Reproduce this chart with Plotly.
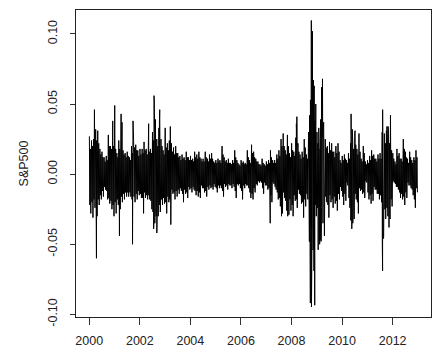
import datetime as dt
import plotly.graph_objects as go

# Monthly outer envelope (largest up / down daily log return)
hi_2000 = [0.027, 0.024, 0.025, 0.032, 0.031, 0.018, 0.016, 0.012, 0.013, 0.028, 0.020, 0.024]
lo_2000 = [-0.028, -0.031, -0.024, -0.030, -0.022, -0.018, -0.016, -0.011, -0.018, -0.021, -0.025, -0.030]
hi_2001 = [0.020, 0.015, 0.024, 0.035, 0.017, 0.015, 0.016, 0.012, 0.020, 0.024, 0.021, 0.017]
lo_2001 = [-0.028, -0.022, -0.025, -0.020, -0.018, -0.016, -0.016, -0.016, -0.020, -0.020, -0.018, -0.015]
hi_2002 = [0.018, 0.018, 0.023, 0.018, 0.018, 0.018, 0.030, 0.030, 0.025, 0.033, 0.025, 0.017]
lo_2002 = [-0.017, -0.028, -0.017, -0.018, -0.018, -0.025, -0.033, -0.030, -0.030, -0.027, -0.022, -0.021]
hi_2003 = [0.025, 0.022, 0.024, 0.022, 0.019, 0.020, 0.015, 0.013, 0.014, 0.012, 0.016, 0.012]
lo_2003 = [-0.028, -0.020, -0.022, -0.014, -0.018, -0.016, -0.014, -0.012, -0.020, -0.014, -0.017, -0.011]
hi_2004 = [0.013, 0.011, 0.016, 0.014, 0.016, 0.011, 0.011, 0.016, 0.011, 0.014, 0.015, 0.009]
lo_2004 = [-0.013, -0.011, -0.015, -0.016, -0.017, -0.010, -0.013, -0.016, -0.011, -0.010, -0.011, -0.009]
hi_2005 = [0.010, 0.011, 0.010, 0.020, 0.012, 0.010, 0.011, 0.008, 0.010, 0.017, 0.010, 0.007]
lo_2005 = [-0.013, -0.010, -0.010, -0.016, -0.009, -0.011, -0.008, -0.010, -0.009, -0.017, -0.008, -0.010]
hi_2006 = [0.010, 0.009, 0.008, 0.017, 0.010, 0.021, 0.016, 0.011, 0.009, 0.007, 0.011, 0.007]
lo_2006 = [-0.018, -0.010, -0.008, -0.010, -0.017, -0.018, -0.013, -0.008, -0.006, -0.006, -0.014, -0.008]
hi_2007 = [0.009, 0.010, 0.017, 0.010, 0.010, 0.014, 0.017, 0.025, 0.029, 0.017, 0.028, 0.015]
lo_2007 = [-0.011, -0.014, -0.020, -0.007, -0.011, -0.018, -0.023, -0.028, -0.017, -0.026, -0.029, -0.026]
hi_2008 = [0.022, 0.016, 0.026, 0.022, 0.014, 0.016, 0.025, 0.014, 0.030, 0.040, 0.040, 0.035]
lo_2008 = [-0.030, -0.019, -0.024, -0.014, -0.021, -0.031, -0.023, -0.018, -0.030, -0.050, -0.050, -0.030]
hi_2009 = [0.030, 0.023, 0.035, 0.030, 0.025, 0.020, 0.023, 0.022, 0.016, 0.020, 0.022, 0.010]
lo_2009 = [-0.030, -0.030, -0.030, -0.020, -0.020, -0.031, -0.020, -0.024, -0.021, -0.026, -0.018, -0.012]
hi_2010 = [0.013, 0.014, 0.010, 0.015, 0.022, 0.024, 0.030, 0.018, 0.022, 0.011, 0.020, 0.009]
lo_2010 = [-0.022, -0.019, -0.008, -0.024, -0.033, -0.032, -0.018, -0.028, -0.012, -0.014, -0.017, -0.006]
hi_2011 = [0.010, 0.013, 0.017, 0.014, 0.011, 0.014, 0.015, 0.030, 0.029, 0.031, 0.029, 0.022]
lo_2011 = [-0.018, -0.021, -0.019, -0.011, -0.014, -0.018, -0.020, -0.045, -0.032, -0.030, -0.032, -0.023]
hi_2012 = [0.015, 0.009, 0.018, 0.015, 0.011, 0.025, 0.016, 0.011, 0.016, 0.010, 0.012, 0.017]
lo_2012 = [-0.006, -0.009, -0.011, -0.017, -0.018, -0.022, -0.017, -0.008, -0.010, -0.015, -0.024, -0.013]

# Monthly inner band (typical second-largest up / down moves)
hi2_2000 = [0.018, 0.020, 0.022, 0.024, 0.022, 0.014, 0.012, 0.009, 0.010, 0.020, 0.018, 0.020]
lo2_2000 = [-0.022, -0.020, -0.018, -0.022, -0.018, -0.015, -0.012, -0.009, -0.012, -0.017, -0.019, -0.022]
hi2_2001 = [0.018, 0.012, 0.018, 0.022, 0.014, 0.012, 0.013, 0.010, 0.015, 0.019, 0.017, 0.013]
lo2_2001 = [-0.020, -0.018, -0.020, -0.016, -0.014, -0.013, -0.013, -0.013, -0.018, -0.016, -0.014, -0.012]
hi2_2002 = [0.014, 0.015, 0.017, 0.014, 0.016, 0.015, 0.024, 0.024, 0.020, 0.026, 0.020, 0.014]
lo2_2002 = [-0.014, -0.017, -0.013, -0.015, -0.015, -0.019, -0.027, -0.024, -0.025, -0.022, -0.018, -0.017]
hi2_2003 = [0.019, 0.017, 0.020, 0.016, 0.014, 0.015, 0.012, 0.010, 0.011, 0.010, 0.012, 0.010]
lo2_2003 = [-0.020, -0.016, -0.018, -0.011, -0.013, -0.012, -0.011, -0.010, -0.014, -0.011, -0.013, -0.009]
hi2_2004 = [0.010, 0.009, 0.012, 0.011, 0.012, 0.009, 0.009, 0.012, 0.009, 0.011, 0.011, 0.008]
lo2_2004 = [-0.010, -0.009, -0.012, -0.012, -0.013, -0.008, -0.010, -0.012, -0.009, -0.008, -0.009, -0.007]
hi2_2005 = [0.008, 0.009, 0.008, 0.014, 0.009, 0.008, 0.008, 0.007, 0.008, 0.012, 0.008, 0.006]
lo2_2005 = [-0.010, -0.008, -0.008, -0.012, -0.007, -0.008, -0.007, -0.008, -0.007, -0.012, -0.007, -0.007]
hi2_2006 = [0.008, 0.007, 0.007, 0.012, 0.008, 0.015, 0.012, 0.009, 0.007, 0.006, 0.008, 0.006]
lo2_2006 = [-0.012, -0.008, -0.007, -0.008, -0.013, -0.014, -0.010, -0.007, -0.005, -0.005, -0.010, -0.006]
hi2_2007 = [0.007, 0.008, 0.012, 0.008, 0.008, 0.011, 0.013, 0.020, 0.020, 0.014, 0.020, 0.012]
lo2_2007 = [-0.008, -0.010, -0.015, -0.006, -0.009, -0.013, -0.017, -0.022, -0.013, -0.019, -0.022, -0.018]
hi2_2008 = [0.017, 0.013, 0.020, 0.016, 0.011, 0.012, 0.019, 0.011, 0.022, 0.030, 0.030, 0.026]
lo2_2008 = [-0.022, -0.015, -0.018, -0.011, -0.015, -0.020, -0.018, -0.014, -0.022, -0.038, -0.036, -0.022]
hi2_2009 = [0.022, 0.018, 0.026, 0.022, 0.019, 0.015, 0.017, 0.016, 0.012, 0.015, 0.016, 0.008]
lo2_2009 = [-0.024, -0.024, -0.024, -0.016, -0.016, -0.022, -0.015, -0.018, -0.016, -0.019, -0.014, -0.009]
hi2_2010 = [0.010, 0.011, 0.008, 0.011, 0.017, 0.018, 0.021, 0.014, 0.016, 0.009, 0.015, 0.007]
lo2_2010 = [-0.016, -0.014, -0.006, -0.017, -0.025, -0.024, -0.014, -0.020, -0.010, -0.011, -0.013, -0.005]
hi2_2011 = [0.008, 0.010, 0.013, 0.011, 0.009, 0.011, 0.011, 0.024, 0.022, 0.023, 0.022, 0.017]
lo2_2011 = [-0.013, -0.015, -0.014, -0.009, -0.011, -0.014, -0.015, -0.030, -0.025, -0.024, -0.025, -0.018]
hi2_2012 = [0.011, 0.007, 0.013, 0.011, 0.009, 0.018, 0.012, 0.008, 0.012, 0.008, 0.010, 0.012]
lo2_2012 = [-0.005, -0.007, -0.009, -0.013, -0.014, -0.016, -0.013, -0.006, -0.008, -0.011, -0.018, -0.010]

# Large individual daily moves (outliers standing out of the band)
spike_dates = [
    "2000-03-16", "2000-04-14", "2000-12-05",
    "2001-01-03", "2001-03-12", "2001-04-05", "2001-04-18", "2001-09-17", "2001-09-20", "2001-09-24",
    "2002-05-08", "2002-07-19", "2002-07-24", "2002-07-29", "2002-08-05", "2002-08-14", "2002-09-03",
    "2002-10-11", "2002-10-15",
    "2003-01-02", "2003-03-17", "2003-03-24",
    "2007-02-27", "2007-08-09", "2007-11-07",
    "2008-03-11", "2008-03-18", "2008-09-15", "2008-09-17", "2008-09-18", "2008-09-19", "2008-09-29",
    "2008-09-30", "2008-10-06", "2008-10-07", "2008-10-09", "2008-10-13", "2008-10-15", "2008-10-16",
    "2008-10-20", "2008-10-22", "2008-10-24", "2008-10-28", "2008-11-05", "2008-11-12", "2008-11-13",
    "2008-11-19", "2008-11-20", "2008-11-21", "2008-11-24", "2008-12-01", "2008-12-05", "2008-12-08",
    "2008-12-16",
    "2009-01-20", "2009-01-28", "2009-02-10", "2009-02-17", "2009-02-24", "2009-03-02", "2009-03-05",
    "2009-03-10", "2009-03-23", "2009-03-30", "2009-04-09", "2009-04-20",
    "2010-05-06", "2010-05-10", "2010-05-20", "2010-05-27", "2010-06-04", "2010-07-07", "2010-09-01",
    "2011-08-04", "2011-08-08", "2011-08-09", "2011-08-10", "2011-08-11", "2011-08-18", "2011-09-22",
    "2011-10-10", "2011-10-27", "2011-11-09", "2011-11-30",
]
spike_vals = [
    0.046, -0.060, 0.038,
    0.049, -0.044, 0.043, 0.037, -0.050, -0.031, 0.038,
    0.036, -0.039, 0.056, 0.053, -0.035, 0.039, -0.042,
    0.038, 0.046,
    0.033, 0.034, -0.036,
    -0.035, -0.030, -0.030,
    0.036, 0.041, -0.048, -0.048, 0.042, 0.039, -0.092,
    0.053, -0.039, -0.059, -0.079, 0.1096, -0.0947, 0.042,
    0.047, -0.063, -0.035, 0.102, -0.054, -0.053, 0.067,
    -0.063, -0.069, 0.061, 0.063, -0.0935, 0.036, 0.038,
    0.050,
    -0.054, 0.033, -0.050, -0.047, 0.039, -0.048, -0.044,
    0.062, 0.068, -0.035, 0.037, -0.044,
    -0.033, 0.043, -0.039, 0.032, -0.035, 0.031, 0.029,
    -0.049, -0.069, 0.046, -0.045, 0.045, -0.046, -0.032,
    0.034, 0.034, -0.038, 0.042,
]

years = list(range(2000, 2013))
his = [hi_2000, hi_2001, hi_2002, hi_2003, hi_2004, hi_2005, hi_2006,
       hi_2007, hi_2008, hi_2009, hi_2010, hi_2011, hi_2012]
los = [lo_2000, lo_2001, lo_2002, lo_2003, lo_2004, lo_2005, lo_2006,
       lo_2007, lo_2008, lo_2009, lo_2010, lo_2011, lo_2012]
his2 = [hi2_2000, hi2_2001, hi2_2002, hi2_2003, hi2_2004, hi2_2005, hi2_2006,
        hi2_2007, hi2_2008, hi2_2009, hi2_2010, hi2_2011, hi2_2012]
los2 = [lo2_2000, lo2_2001, lo2_2002, lo2_2003, lo2_2004, lo2_2005, lo2_2006,
        lo2_2007, lo2_2008, lo2_2009, lo2_2010, lo2_2011, lo2_2012]

pts = []
for y, hl, ll, hl2, ll2 in zip(years, his, los, his2, los2):
    for m in range(12):
        pts.append((dt.datetime(y, m + 1, 3), hl[m]))
        pts.append((dt.datetime(y, m + 1, 10), ll2[m]))
        pts.append((dt.datetime(y, m + 1, 17), hl2[m]))
        pts.append((dt.datetime(y, m + 1, 24), ll[m]))
for d, v in zip(spike_dates, spike_vals):
    pts.append((dt.datetime.strptime(d, "%Y-%m-%d") + dt.timedelta(hours=12), v))
pts.sort(key=lambda p: p[0])
xs = [p[0] for p in pts]
ys = [p[1] for p in pts]

fig = go.Figure()
fig.add_trace(go.Scatter(x=xs, y=ys, mode="lines",
                         line=dict(color="black", width=1), hoverinfo="skip"))

tick_years = [2000, 2002, 2004, 2006, 2008, 2010, 2012]
y_ticks = [-0.10, -0.05, 0.00, 0.05, 0.10]
y_labels = ["-0.10", "-0.05", "0.00", "0.05", "0.10"]

fig.update_layout(
    width=435, height=362,
    margin=dict(l=76, r=4, t=10, b=45),
    paper_bgcolor="white", plot_bgcolor="white",
    showlegend=False,
    font=dict(family="Liberation Sans, Arial, sans-serif", size=12, color="#222"),
)
fig.update_xaxes(
    type="date", automargin=False,
    range=[dt.datetime(1999, 6, 24), dt.datetime(2013, 7, 8)],
    tickvals=[dt.datetime(y, 1, 1) for y in tick_years],
    ticktext=[str(y) for y in tick_years],
    ticks="outside", ticklen=7, tickwidth=1, tickcolor="#333",
    ticklabelstandoff=5,
    showline=True, linecolor="#222", linewidth=1, mirror=True,
    showgrid=False, zeroline=False,
    tickfont=dict(size=12.5),
)
fig.update_yaxes(
    automargin=False,
    range=[-0.1019, 0.1171],
    tickvals=y_ticks, ticktext=y_labels, tickangle=-90,
    ticks="outside", ticklen=5, tickwidth=1, tickcolor="#333",
    ticklabelstandoff=8,
    showline=True, linecolor="#222", linewidth=1, mirror=True,
    showgrid=False, zeroline=False,
    tickfont=dict(size=12.5),
    title=dict(text="S&P500", font=dict(size=12.5), standoff=14),
)

fig.write_html(
    "out.html",
    config={"displayModeBar": False},
    post_script="document.body.style.margin='0';document.body.style.padding='0';",
)
